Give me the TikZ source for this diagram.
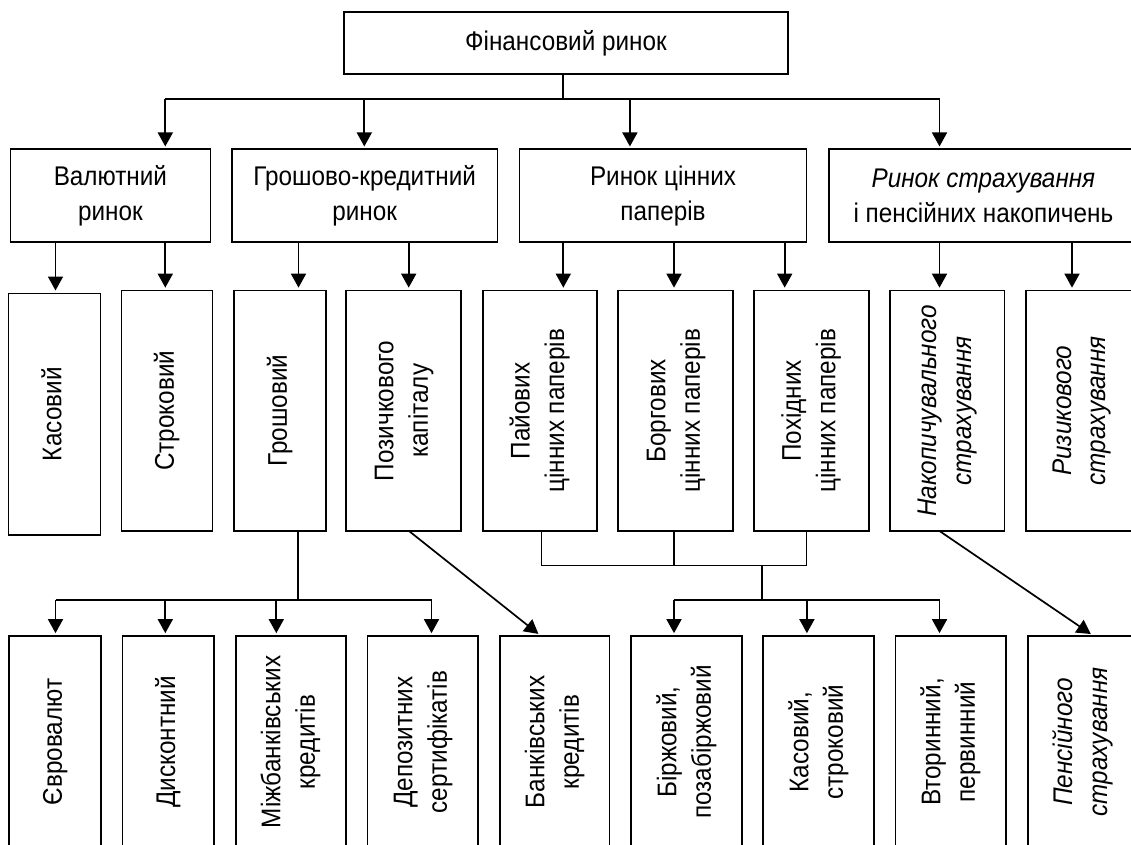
\documentclass[tikz,border=0pt]{standalone}
\usepackage{fontspec}
\setmainfont{Liberation Sans}[FakeStretch=0.9]
\usetikzlibrary{arrows.meta}
% vertical (rotated) multi-line label
\newcommand{\vlabel}[1]{\rotatebox{90}{\begin{tabular}{@{}c@{}}#1\end{tabular}}}
\begin{document}
\begin{tikzpicture}[x=1pt,y=-1pt,
  box/.style={draw, line width=1.7pt, inner sep=0pt, align=center,
              font=\fontsize{27}{34.5}\selectfont},
  ln/.style={line width=1.7pt},
  arr/.style={line width=1.7pt, -{Triangle[length=14pt,width=15pt]}, shorten >=2pt}]
\useasboundingbox (0,0) rectangle (1131,844);
\clip (0,0) rectangle (1131,844);

% --- level 0
\node[box, minimum width=444, minimum height=62] (fin) at (566,43) {Фінансовий ринок};

% --- level 1
\node[box, minimum width=200, minimum height=93] (val) at (110.4,195.8) {Валютний\\ринок};
\node[box, minimum width=265.5, minimum height=93] (gkr) at (364.7,195.8) {Грошово-кредитний\\ринок};
\node[box, minimum width=287, minimum height=93] (rcp) at (663,195.8) {Ринок цінних\\паперів};
\node[box, minimum width=309, minimum height=93] (rst) at (983.4,195.8) {\textit{Ринок страхування}\\і пенсійних накопичень};

% --- level 2
\node[box, minimum width=92, minimum height=241.7] (kas) at (54.4,414.2) {\vlabel{Касовий}};
\node[box, minimum width=91, minimum height=240.5] (strk) at (166.9,410.75) {\vlabel{Строковий}};
\node[box, minimum width=92.2, minimum height=240.5] (gros) at (279.9,410.75) {\vlabel{Грошовий}};
\node[box, minimum width=115, minimum height=240.5] (poz) at (403.75,410.75) {\vlabel{Позичкового\\капіталу}};
\node[box, minimum width=114, minimum height=240.5] (pay) at (540,410.75) {\vlabel{Пайових\\цінних паперів}};
\node[box, minimum width=114.7, minimum height=240.5] (borg) at (675.6,410.75) {\vlabel{Боргових\\цінних паперів}};
\node[box, minimum width=115, minimum height=240.5] (pokh) at (811.25,410.75) {\vlabel{Похідних\\цінних паперів}};
\node[box, minimum width=114.7, minimum height=240.5] (nak) at (947,410.75) {\vlabel{\textit{Накопичувального}\\\textit{страхування}}};
\node[box, minimum width=112, minimum height=240.5] (riz) at (1081.7,410.75) {\vlabel{\textit{Ризикового}\\\textit{страхування}}};

% --- level 3
\node[box, minimum width=92, minimum height=212] (evr) at (55,742) {\vlabel{Євровалют}};
\node[box, minimum width=91.3, minimum height=212] (disk) at (168.2,742) {\vlabel{Дисконтний}};
\node[box, minimum width=110, minimum height=212] (mizh) at (290.7,742) {\vlabel{Міжбанківських\\кредитів}};
\node[box, minimum width=110.5, minimum height=212] (dep) at (422.8,742) {\vlabel{Депозитних\\сертифікатів}};
\node[box, minimum width=109.6, minimum height=212] (bank) at (554.8,742) {\vlabel{Банківських\\кредитів}};
\node[box, minimum width=111, minimum height=212] (birzh) at (686.8,742) {\vlabel{Біржовий,\\позабіржовий}};
\node[box, minimum width=111.3, minimum height=212] (kstr) at (818.6,742) {\vlabel{Касовий,\\строковий}};
\node[box, minimum width=110.6, minimum height=212] (vtor) at (950.7,742) {\vlabel{Вторинний,\\первинний}};
\node[box, minimum width=110, minimum height=212] (pens) at (1083,742) {\vlabel{\textit{Пенсійного}\\\textit{страхування}}};

% --- level 0 -> level 1
\coordinate (j0) at (563,99.3);
\coordinate (b1) at (165.3,99.3);
\coordinate (b2) at (364.3,99.3);
\coordinate (b3) at (629.9,99.3);
\coordinate (b4) at (939.5,99.3);
\draw[ln] (fin.south -| j0) -- (j0);
\draw[ln] (b1) -- (b4);
\draw[arr] (b1) -- (b1 |- val.north);
\draw[arr] (b2) -- (b2 |- gkr.north);
\draw[arr] (b3) -- (b3 |- rcp.north);
\draw[arr] (b4) -- (b4 |- rst.north);

% --- level 1 -> level 2
\coordinate (a1) at (55.5,242.3);
\coordinate (a2) at (165.3,242.3);
\coordinate (a3) at (298.5,242.3);
\coordinate (a4) at (408.7,242.3);
\coordinate (a5) at (563.3,242.3);
\coordinate (a6) at (674,242.3);
\coordinate (a7) at (784.7,242.3);
\coordinate (a8) at (939.5,242.3);
\coordinate (a9) at (1072,242.3);
\draw[arr] (a1) -- (a1 |- kas.north);
\draw[arr] (a2) -- (a2 |- strk.north);
\draw[arr] (a3) -- (a3 |- gros.north);
\draw[arr] (a4) -- (a4 |- poz.north);
\draw[arr] (a5) -- (a5 |- pay.north);
\draw[arr] (a6) -- (a6 |- borg.north);
\draw[arr] (a7) -- (a7 |- pokh.north);
\draw[arr] (a8) -- (a8 |- nak.north);
\draw[arr] (a9) -- (a9 |- riz.north);

% --- money market branch
\coordinate (g1) at (297.7,600);
\coordinate (g2) at (55.5,600);
\coordinate (g3) at (165.3,600);
\coordinate (g4) at (276.3,600);
\coordinate (g5) at (431.5,600);
\draw[ln] (gros.south -| g1) -- (g1);
\draw[ln] (g2) -- (g5);
\draw[arr] (g2) -- (g2 |- evr.north);
\draw[arr] (g3) -- (g3 |- disk.north);
\draw[arr] (g4) -- (g4 |- mizh.north);
\draw[arr] (g5) -- (g5 |- dep.north);

% --- securities branch
\coordinate (p1) at (541.5,565.5);
\coordinate (p2) at (674,565.5);
\coordinate (p3) at (806.5,565.5);
\coordinate (p4) at (762,565.5);
\coordinate (p5) at (762,600);
\coordinate (q1) at (674,600);
\coordinate (q2) at (806.9,600);
\coordinate (q3) at (939.5,600);
\draw[ln] (pay.south -| p1) -- (p1) -- (p3) -- (pokh.south -| p3);
\draw[ln] (borg.south -| p2) -- (p2);
\draw[ln] (p4) -- (p5);
\draw[ln] (q1) -- (q3);
\draw[arr] (q1) -- (q1 |- birzh.north);
\draw[arr] (q2) -- (q2 |- kstr.north);
\draw[arr] (q3) -- (q3 |- vtor.north);

% --- diagonal links
\coordinate (d1) at (409,531);
\coordinate (d2) at (540,600);
\coordinate (d3) at (939.5,531);
\coordinate (d4) at (1092.5,600);
\draw[arr] (d1) -- (d2 |- bank.north);
\draw[arr] (d3) -- (d4 |- pens.north);
\end{tikzpicture}
\end{document}
